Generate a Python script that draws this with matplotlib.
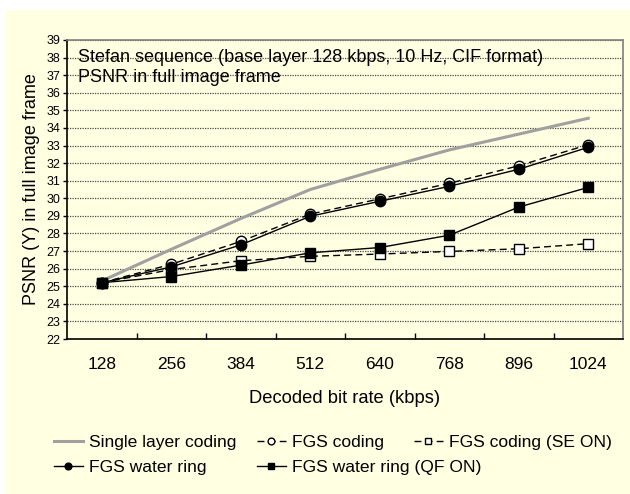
import matplotlib
matplotlib.use("Agg")
import matplotlib.pyplot as plt
from matplotlib.patches import Rectangle

plt.rcParams['font.family'] = ['Liberation Sans', 'DejaVu Sans']

categories = ['128', '256', '384', '512', '640', '768', '896', '1024']
single_layer = [25.3, 27.1, 28.85, 30.5, 31.65, 32.75, 33.65, 34.55]
fgs_coding = [25.2, 26.25, 27.55, 29.1, 29.97, 30.85, 31.85, 33.05]
fgs_se_on = [25.2, 25.95, 26.45, 26.7, 26.83, 26.98, 27.13, 27.42]
fgs_water_ring = [25.2, 26.1, 27.35, 28.98, 29.83, 30.68, 31.65, 32.9]
fgs_water_qf = [25.2, 25.55, 26.2, 26.9, 27.2, 27.9, 29.5, 30.62]
y_ticks = list(range(22, 40))

W, H = 630, 494
BG = '#FFFFE1'
fig = plt.figure(figsize=(W / 100, H / 100), dpi=100, facecolor='white')
fig.patches.append(Rectangle((6 / W, 0), 1 - 6 / W, 1 - 10 / H, transform=fig.transFigure,
                             facecolor=BG, edgecolor='none', zorder=-10))

L, R, T, B = 67, 623, 40, 339
ax = fig.add_axes([L / W, (H - B) / H, (R - L) / W, (B - T) / H])
ax.set_facecolor(BG)

x = list(range(len(categories)))
l1, = ax.plot(x, single_layer, color='#A0A0A0', lw=2.2, zorder=3)
l2, = ax.plot(x, fgs_coding, color='black', lw=1, ls=(0, (5, 3)), marker='o', ms=7.5,
              mfc='white', mec='black', mew=1, zorder=4)
l3, = ax.plot(x, fgs_se_on, color='black', lw=1, ls=(0, (5, 3)), marker='s', ms=7.5,
              mfc='white', mec='black', mew=1, zorder=4)
l4, = ax.plot(x, fgs_water_ring, color='black', lw=1, marker='o', ms=7.5,
              mfc='black', mec='black', zorder=5)
l5, = ax.plot(x, fgs_water_qf, color='black', lw=1, marker='s', ms=7.5,
              mfc='black', mec='black', zorder=5)

ax.set_xlim(-0.5, len(categories) - 0.5)
ax.set_ylim(22, 39)
ax.set_xticks(x)
ax.set_xticklabels(categories, fontsize=12.5)
ax.set_xticks([i + 0.5 for i in range(len(categories) - 1)], minor=True)
ax.tick_params(axis='x', which='major', length=0, pad=13)
ax.tick_params(axis='x', which='minor', direction='in', length=4, width=1, color='black')
ax.set_yticks(y_ticks)
ax.set_yticklabels([str(v) for v in y_ticks], fontsize=9)
ax.tick_params(axis='y', direction='out', length=3, width=1, pad=2)
ax.yaxis.grid(True, color='#4a4a4a', ls=(0, (1, 1)), lw=0.9)
ax.set_axisbelow(True)
for s in ['left', 'bottom']:
    ax.spines[s].set_color('black')
    ax.spines[s].set_linewidth(1.2)
for s in ['top', 'right']:
    ax.spines[s].set_color('#808080')
    ax.spines[s].set_linewidth(1.2)

ax.set_ylabel('PSNR (Y) in full image frame', fontsize=13, labelpad=4)
ax.set_xlabel('Decoded bit rate (kbps)', fontsize=13.2, labelpad=13)

ax.text(78 / W, 1 - 57 / H, 'Stefan sequence (base layer 128 kbps, 10 Hz, CIF format)',
        transform=fig.transFigure, fontsize=13, va='center', ha='left', zorder=6)
ax.text(78 / W, 1 - 77 / H, 'PSNR in full image frame',
        transform=fig.transFigure, fontsize=13, va='center', ha='left', zorder=6)

entries = [
    (l1, 'Single layer coding', 54, 442),
    (l2, 'FGS coding', 257, 442),
    (l3, 'FGS coding (SE ON)', 414, 442),
    (l4, 'FGS water ring', 54, 467),
    (l5, 'FGS water ring (QF ON)', 257, 467),
]
for h, lab, px, py in entries:
    leg = fig.legend([h], [lab], loc='center left', bbox_to_anchor=(px / W, 1 - py / H),
                     bbox_transform=fig.transFigure, frameon=False, fontsize=12.6,
                     borderpad=0, borderaxespad=0, handlelength=1.65, handletextpad=0.35,
                     markerscale=0.65)

fig.savefig('out.png', dpi=100, facecolor='white')
